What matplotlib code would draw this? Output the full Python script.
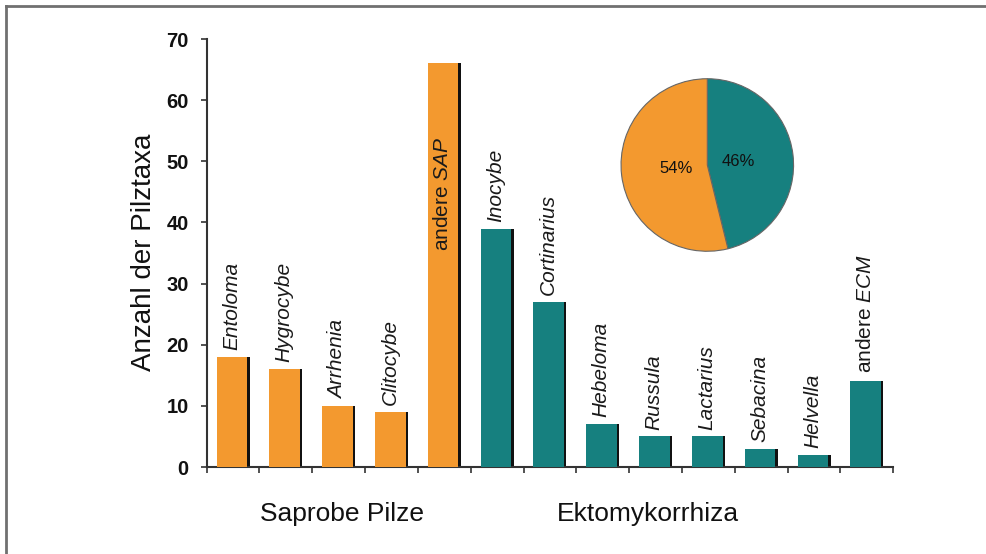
import matplotlib
matplotlib.use("Agg")
import matplotlib.pyplot as plt
from matplotlib.lines import Line2D

plt.rcParams['font.family'] = ['Liberation Sans', 'DejaVu Sans']
plt.rcParams['mathtext.fontset'] = 'custom'
plt.rcParams['mathtext.rm'] = 'Liberation Sans'
plt.rcParams['mathtext.it'] = 'Liberation Sans:italic'

# ---- data ----
sap_names = ["Entoloma", "Hygrocybe", "Arrhenia", "Clitocybe", "andere SAP"]
sap_values = [18, 16, 10, 9, 66]
ecm_names = ["Inocybe", "Cortinarius", "Hebeloma", "Russula", "Lactarius",
             "Sebacina", "Helvella", "andere ECM"]
ecm_values = [39, 27, 7, 5, 5, 3, 2, 14]
group_names = ["Saprobe Pilze", "Ektomykorrhiza"]
y_ticks = [0, 10, 20, 30, 40, 50, 60, 70]
pie_labels = ["ECM", "SAP"]

ORANGE = "#F3992F"
TEAL = "#16807F"

names = sap_names + ecm_names
values = sap_values + ecm_values
colors = [ORANGE] * len(sap_names) + [TEAL] * len(ecm_names)
xs = list(range(len(names)))

fig = plt.figure(figsize=(9.86, 5.54), dpi=100)
ax = fig.add_axes([0.2096, 0.157, 0.6964, 0.7726])

full_w = 0.625
face_w = 0.58
lefts = [x - full_w / 2 for x in xs]
# dark shadow bars
ax.bar(lefts, values, width=full_w, align='edge', color='#111111', zorder=2)
ax.bar(lefts, values, width=face_w, align='edge', color=colors, zorder=3)

def fmt(n):
    if n.startswith("andere "):
        return "andere $\\it{" + n.split(" ", 1)[1] + "}$"
    return n

for x, n, v in zip(xs, names, values):
    if n == "andere SAP":
        ax.text(x - 0.03, 54, fmt(n), rotation=90, ha='center', va='top',
                fontsize=15, color='#1a1a1a', zorder=4)
    elif n.startswith("andere"):
        ax.annotate(fmt(n), (x - 0.03, v), xytext=(0, 6), textcoords='offset points',
                    rotation=90, ha='center', va='bottom', fontsize=15,
                    color='#1a1a1a')
    else:
        ax.annotate(n, (x - 0.03, v), xytext=(0, 5), textcoords='offset points',
                    rotation=90, ha='center', va='bottom', fontsize=15,
                    style='italic', color='#1a1a1a')

ax.set_xlim(-0.5, len(names) - 0.5)
ax.set_ylim(0, 70)
ax.set_yticks(y_ticks)
ax.set_yticklabels([str(t) for t in y_ticks], fontsize=14.5, fontweight='bold')
ax.set_xticks([i - 0.5 for i in range(len(names) + 1)])
ax.set_xticklabels([])
ax.tick_params(axis='y', length=4, width=1.2, pad=9, color='#333333', labelcolor='#111111')
ax.tick_params(axis='x', length=4, width=1.2, direction='out', color='#333333')
for s in ['top', 'right']:
    ax.spines[s].set_visible(False)
for s in ['left', 'bottom']:
    ax.spines[s].set_linewidth(1.5)
    ax.spines[s].set_color('#333333')

fig.text(144 / 986, 1 - 252 / 554, "Anzahl der Pilztaxa", rotation=90,
         ha='center', va='center', fontsize=20, color='#111111')

sap_center = (len(sap_names) - 1) / 2
ecm_center = len(sap_names) + (len(ecm_names) - 1) / 2
ax.text(sap_center + 0.06, -8.8, group_names[0], ha='center', va='baseline',
        fontsize=19, color='#111111')
ax.text(ecm_center - 0.65, -8.8, group_names[1], ha='center', va='baseline',
        fontsize=19, color='#111111')

# pie inset
pax = fig.add_axes([(707.3 - 88) / 986, 1 - (165 + 88) / 554, 176 / 986, 176 / 554])
pie_vals = [sum(ecm_values), sum(sap_values)]
pax.pie(pie_vals, colors=[TEAL, ORANGE], startangle=90, counterclock=False,
        autopct='%1.0f%%', pctdistance=0.36,
        wedgeprops=dict(edgecolor='#666666', linewidth=0.8),
        textprops=dict(fontsize=12, color='#111111'))
pax.set_xlim(-1.02, 1.02)
pax.set_ylim(-1.02, 1.02)
pax.set_aspect('equal')

# frame lines
fig.add_artist(Line2D([6 / 986, 6 / 986], [0, 1 - 6 / 554], transform=fig.transFigure,
                      color='#707070', linewidth=2))
fig.add_artist(Line2D([6 / 986, 1], [1 - 6 / 554, 1 - 6 / 554], transform=fig.transFigure,
                      color='#707070', linewidth=2))

fig.savefig("out.png", dpi=100)
